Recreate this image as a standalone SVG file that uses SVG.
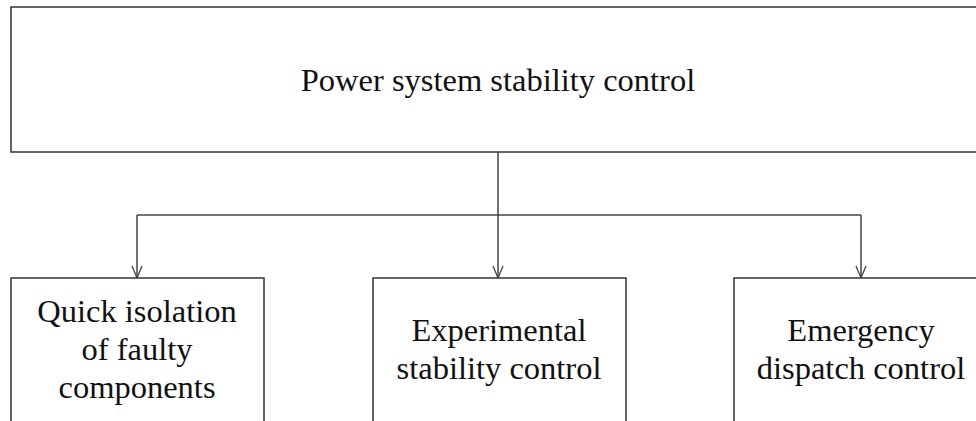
<svg xmlns="http://www.w3.org/2000/svg" width="976" height="421" viewBox="0 0 976 421">
<style>
.box{fill:#fff;stroke:#333;stroke-width:1.5}
.t{font-family:'Liberation Serif','DejaVu Serif',serif;font-size:32.5px;fill:#111;text-anchor:middle}
.c{fill:none;stroke:#444;stroke-width:1.5}
</style>
<defs>
<marker id="arr" markerWidth="14" markerHeight="12" refX="13" refY="6" orient="auto" markerUnits="userSpaceOnUse" viewBox="0 0 14 12">
<path d="M1,1 L13,6 L1,11" fill="none" stroke="#444" stroke-width="1.3"/>
</marker>
</defs>
<rect width="976" height="421" fill="#fff"/>
<g id="root">
<rect class="box" x="11" y="7" width="980" height="145"/>
<text class="t" x="498" y="91">Power system stability control</text>
</g>
<g id="connectors">
<line class="c" x1="498" y1="152" x2="498" y2="215"/>
<line class="c" x1="137" y1="215" x2="861" y2="215"/>
<line class="c" x1="137" y1="215" x2="137" y2="278" marker-end="url(#arr)"/>
<line class="c" x1="498" y1="215" x2="498" y2="278" marker-end="url(#arr)"/>
<line class="c" x1="861" y1="215" x2="861" y2="278" marker-end="url(#arr)"/>
</g>
<g id="n1">
<rect class="box" x="11" y="278" width="253" height="160"/>
<text class="t" x="137" y="322">Quick isolation</text>
<text class="t" x="137" y="360">of faulty</text>
<text class="t" x="137" y="398">components</text>
</g>
<g id="n2">
<rect class="box" x="373" y="278" width="253" height="160"/>
<text class="t" x="499" y="341">Experimental</text>
<text class="t" x="499" y="379">stability control</text>
</g>
<g id="n3">
<rect class="box" x="734" y="278" width="260" height="160"/>
<text class="t" x="861" y="341">Emergency</text>
<text class="t" x="861" y="379">dispatch control</text>
</g>
</svg>
